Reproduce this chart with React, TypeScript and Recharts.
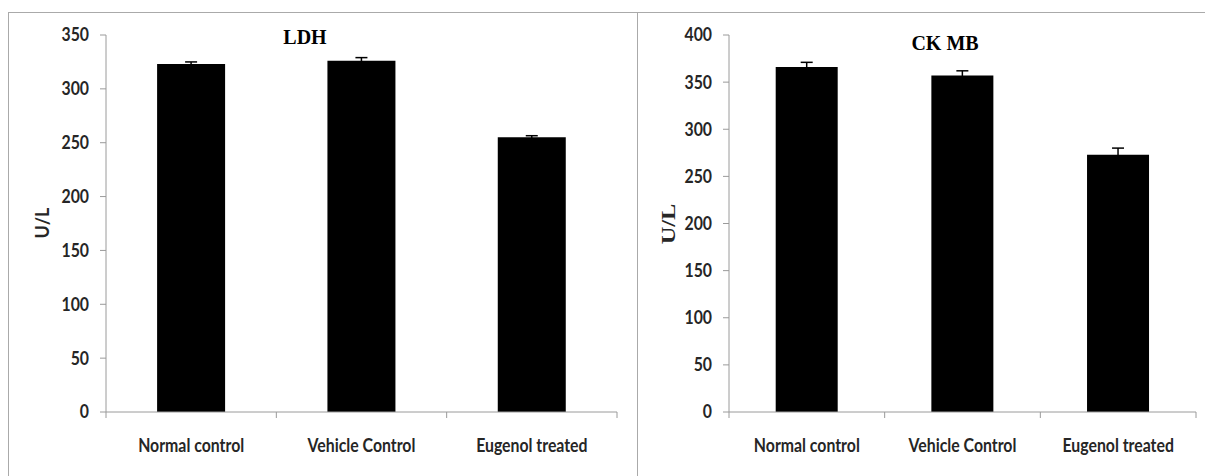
import React from 'react';
import { BarChart, Bar, XAxis, YAxis, ErrorBar } from 'recharts';

const groups = ['Normal control', 'Vehicle Control', 'Eugenol treated'];

const ldhMeans = [323, 326, 255];
const ldhErr = [2, 3, 1.5];
const ldhTicks = [0, 50, 100, 150, 200, 250, 300, 350];

const ckmbMeans = [366, 357, 273];
const ckmbErr = [5, 5, 7];
const ckmbTicks = [0, 50, 100, 150, 200, 250, 300, 350, 400];

const ldhData = groups.map((name, i) => ({ name, value: ldhMeans[i], err: ldhErr[i] }));
const ckmbData = groups.map((name, i) => ({ name, value: ckmbMeans[i], err: ckmbErr[i] }));

const TICK_FONT = 'Lato, "DejaVu Sans", sans-serif';
const TEXT_COLOR = '#262626';
const AXIS_GREY = '#9a9a9a';
const SQUEEZE = 0.88; // the source text is tall and narrow

// Excel style: tick marks sit on category boundaries, label in the middle
const CategoryTick = (props: any) => {
    const { x, y, payload, index, visibleTicksCount } = props;
    const half = payload.offset ?? 0;
    return (
        <g>
            <line x1={x - half} y1={y} x2={x - half} y2={y + 6} stroke={AXIS_GREY} />
            {index === visibleTicksCount - 1 && (
                <line x1={x + half} y1={y} x2={x + half} y2={y + 6} stroke={AXIS_GREY} />
            )}
            <text
                transform={`translate(${x},${y + 27}) scale(${SQUEEZE},1)`}
                x={0}
                y={0}
                dy="0.71em"
                textAnchor="middle"
                fill={TEXT_COLOR}
                style={{ fontFamily: TICK_FONT, fontSize: 18, fontWeight: 'bold' }}
            >
                {payload.value}
            </text>
        </g>
    );
};

const ValueTick = (props: any) => {
    const { x, y, payload } = props;
    return (
        <text
            transform={`translate(${x},${y}) scale(${SQUEEZE},1)`}
            x={0}
            y={0}
            dy="0.355em"
            textAnchor="end"
            fill={TEXT_COLOR}
            style={{ fontFamily: TICK_FONT, fontSize: 18, fontWeight: 'bold' }}
        >
            {payload.value}
        </text>
    );
};

interface PanelProps {
    data: { name: string; value: number; err: number }[];
    ticks: number[];
    width: number;
    yWidth: number;
    right: number;
}

const Panel: React.FC<PanelProps> = ({ data, ticks, width, yWidth, right }) => (
    <BarChart
        width={width}
        height={464}
        data={data}
        margin={{ top: 23, right, bottom: 4, left: 0 }}
        barCategoryGap="30%"
    >
        <XAxis
            dataKey="name"
            height={60}
            stroke={AXIS_GREY}
            tickLine={false}
            tickSize={0}
            tickMargin={0}
            tick={<CategoryTick />}
            interval={0}
        />
        <YAxis
            width={yWidth}
            domain={[0, ticks[ticks.length - 1]]}
            ticks={ticks}
            stroke={AXIS_GREY}
            tickSize={6}
            tickMargin={11}
            tick={<ValueTick />}
            interval={0}
        />
        <Bar dataKey="value" fill="#000" isAnimationActive={false}>
            <ErrorBar dataKey="err" width={6} stroke="#000" strokeWidth={1.5} isAnimationActive={false} />
        </Bar>
    </BarChart>
);

export default function App() {
    return (
        <div style={{ position: 'absolute', left: 0, top: 0, width: 1205, height: 476, overflow: 'hidden', background: '#fff' }}>
            {/* panel frames */}
            <div style={{ position: 'absolute', left: 8, top: 12, width: 630, height: 500, borderLeft: '1px solid #aaa', borderTop: '1px solid #aaa', borderRight: '1px solid #aaa', boxSizing: 'border-box' }} />
            <div style={{ position: 'absolute', left: 638, top: 12, width: 600, height: 500, borderTop: '1px solid #aaa', boxSizing: 'border-box' }} />

            <div style={{ position: 'absolute', left: 8, top: 12 }}>
                <Panel data={ldhData} ticks={ldhTicks} width={630} yWidth={98} right={21} />
            </div>
            <div style={{ position: 'absolute', left: 638, top: 12 }}>
                <Panel data={ckmbData} ticks={ckmbTicks} width={567} yWidth={91} right={9} />
            </div>

            {/* titles */}
            <div style={{ position: 'absolute', left: 305, top: 37, transform: 'translate(-50%, -50%)', fontFamily: '"Liberation Serif", serif', fontWeight: 'bold', fontSize: 20, lineHeight: 1, whiteSpace: 'nowrap' }}>
                LDH
            </div>
            <div style={{ position: 'absolute', left: 945, top: 43, transform: 'translate(-50%, -50%)', fontFamily: '"Liberation Serif", serif', fontWeight: 'bold', fontSize: 20, lineHeight: 1, whiteSpace: 'nowrap' }}>
                CK MB
            </div>

            {/* y axis labels */}
            <div style={{ position: 'absolute', left: 42, top: 223, transform: 'translate(-50%, -50%) rotate(-90deg)', fontFamily: TICK_FONT, fontWeight: 'bold', fontSize: 18, lineHeight: 1, color: TEXT_COLOR, whiteSpace: 'nowrap' }}>
                U/L
            </div>
            <div style={{ position: 'absolute', left: 669, top: 224, transform: 'translate(-50%, -50%) rotate(-90deg) scale(1.35, 1)', fontFamily: '"Liberation Serif", serif', fontWeight: 'bold', fontSize: 18, lineHeight: 1, color: TEXT_COLOR, whiteSpace: 'nowrap' }}>
                U/L
            </div>
        </div>
    );
}
